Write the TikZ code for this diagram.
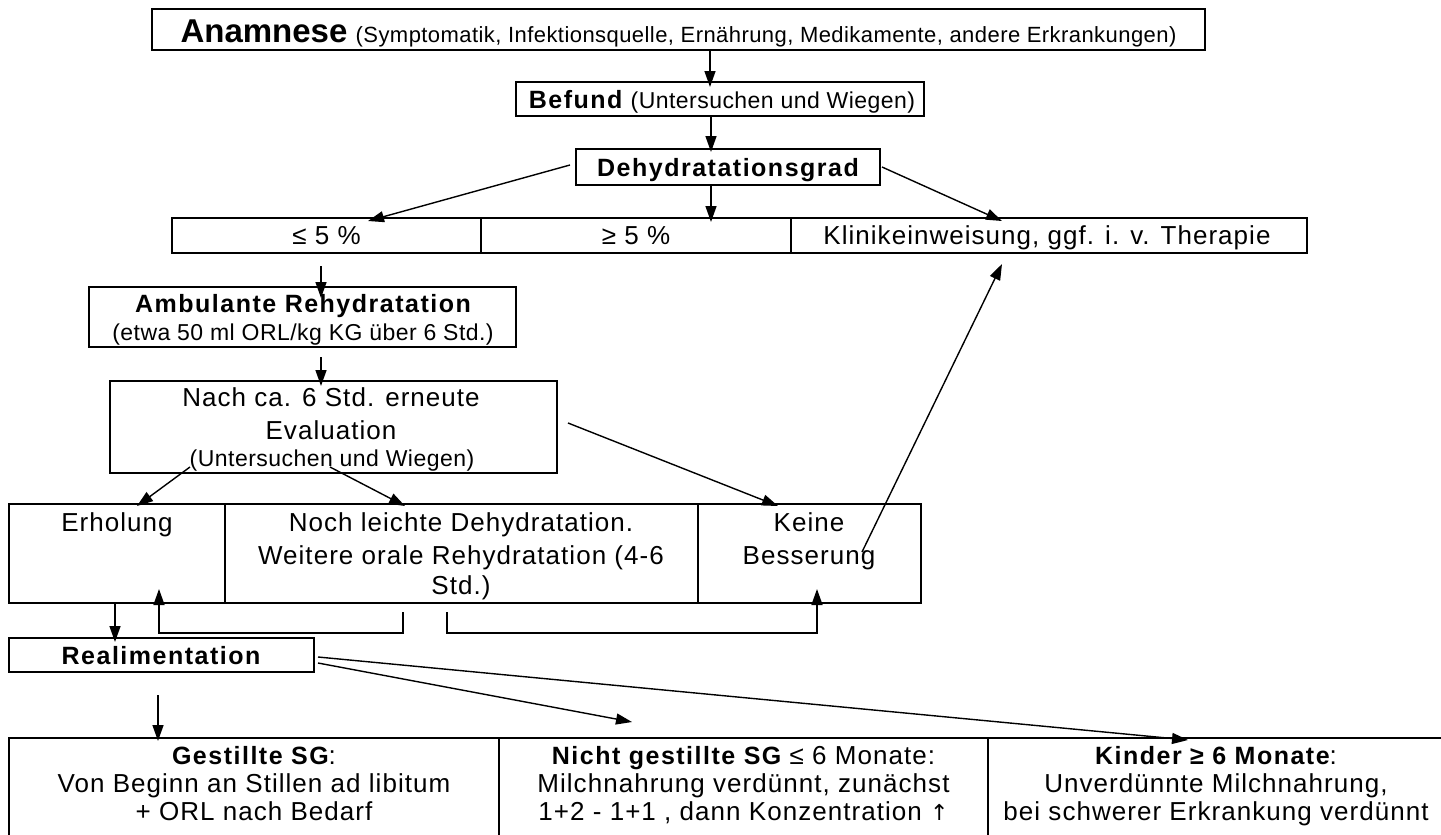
\documentclass[tikz,border=0pt]{standalone}
\usepackage{fontspec}
\setmainfont{Liberation Sans}
\newfontfamily\fnMainFam[LetterSpace=4]{Liberation Sans}
\newfontfamily\fnBoldFam[LetterSpace=6]{Liberation Sans}
\newfontfamily\fnSmallFam[LetterSpace=2]{Liberation Sans}
\newfontfamily\fnBigFam[LetterSpace=0]{Liberation Sans}
\newfontfamily\fnSymFam{DejaVu Sans}
\newcommand\fnMain{\fnMainFam\fontsize{26}{30}\selectfont}
\newcommand\fnBold{\fnBoldFam\bfseries\fontsize{25}{30}\selectfont}
\newcommand\fnSmall{\fnSmallFam\fontsize{23}{26}\selectfont}
\newcommand\fnTiny{\fnSmallFam\fontsize{22}{26}\selectfont}
\newcommand\fnBig{\fnBigFam\bfseries\fontsize{33}{36}\selectfont}
\usetikzlibrary{arrows.meta}
\begin{document}
\begin{tikzpicture}[x=1pt,y=-1pt,
  box/.style={draw, line width=1.8pt, inner sep=0pt},
  txt/.style={inner sep=0pt, text height=18pt, text depth=0pt, font=\fnMain},
  arr/.style={line width=1.4pt, -{Triangle[length=16pt,width=11pt]}}]
\useasboundingbox (0,0) rectangle (1441,835);
\fill[white] (0,0) rectangle (1441,835);

% ---------- boxes ----------
\node[box, minimum width=1053pt, minimum height=41pt] (anam) at (678.5,29.5) {};
\node[box, minimum width=408pt, minimum height=34pt] (befund) at (720,99) {};
\node[box, minimum width=304pt, minimum height=36pt] (dehyd) at (728,167) {};
\node[box, minimum width=309pt, minimum height=35pt] (ra) at (326.5,235.5) {};
\node[box, minimum width=310pt, minimum height=35pt] (rb) at (636,235.5) {};
\node[box, minimum width=516pt, minimum height=35pt] (rc) at (1049,235.5) {};
\node[box, minimum width=427pt, minimum height=60pt] (amb) at (302.5,317) {};
\node[box, minimum width=447pt, minimum height=92pt] (nach) at (333.5,427) {};
\node[box, minimum width=216pt, minimum height=99pt] (ea) at (117,553.5) {};
\node[box, minimum width=473pt, minimum height=99pt] (eb) at (461.5,553.5) {};
\node[box, minimum width=223pt, minimum height=99pt] (ec) at (809.5,553.5) {};
\node[box, minimum width=305pt, minimum height=34pt] (real) at (161.5,655) {};
\node[box, minimum width=490pt, minimum height=112pt] (ba) at (254,794) {};
\node[box, minimum width=489pt, minimum height=112pt] (bb) at (743.5,794) {};
\node[box, minimum width=460pt, minimum height=112pt] (bc) at (1218,794) {};

% ---------- texts ----------
\node[txt, text height=24pt] (tanam) at (678.5,30) {{\fnBig Anamnese} {\fnTiny(Symptomatik, Infektionsquelle, Ernährung, Medikamente, andere Erkrankungen)}};
\node[txt] (tbef) at (722,99) {{\fnBold Befund} {\fnSmall(Untersuchen und Wiegen)}};
\node[txt, font=\fnBold] (tdeh) at (728,167) {Dehydratationsgrad};
\node[txt] (tra) at (326.5,235.5) {≤ 5 \%};
\node[txt] (trb) at (636,235.5) {≥ 5 \%};
\node[txt] (trc) at (1047,235.5) {Klinikeinweisung, ggf. i. v. Therapie};
\node[txt, font=\fnBold] (tamb1) at (303,303) {Ambulante Rehydratation};
\node[txt, font=\fnSmall, text height=16pt] (tamb2) at (303,332) {(etwa 50 ml ORL/kg KG über 6 Std.)};
\node[txt] (tn1) at (331,397) {Nach ca. 6 Std. erneute};
\node[txt] (tn2) at (331,430) {Evaluation};
\node[txt, font=\fnSmall, text height=16pt] (tn3) at (332,458) {(Untersuchen und Wiegen)};
\node[txt] (tea) at (117,522) {Erholung};
\node[txt] (teb1) at (461,522) {Noch leichte Dehydratation.};
\node[txt] (teb2) at (461,555) {Weitere orale Rehydratation (4-6};
\node[txt] (teb3) at (461,585) {Std.)};
\node[txt] (tec1) at (809,522) {Keine};
\node[txt] (tec2) at (809,555) {Besserung};
\node[txt, font=\fnBold] (treal) at (161,655) {Realimentation};
\node[txt] (tba1) at (254,755) {{\fnBold Gestillte SG}:};
\node[txt] (tba2) at (254,783) {Von Beginn an Stillen ad libitum};
\node[txt] (tba3) at (254,811) {+ ORL nach Bedarf};
\node[txt] (tbb1) at (743.5,755) {{\fnBold Nicht gestillte SG} ≤ 6 Monate:};
\node[txt] (tbb2) at (743.5,783) {Milchnahrung verdünnt, zunächst};
\node[txt] (tbb3) at (743.5,811) {1+2 - 1+1 , dann Konzentration {\fnSymFam\fontsize{22}{26}\selectfont ↑}};
\node[txt] (tbc1) at (1216,755) {{\fnBold Kinder ≥ 6 Monate}:};
\node[txt] (tbc2) at (1216,783) {Unverdünnte Milchnahrung,};
\node[txt] (tbc3) at (1216,811) {bei schwerer Erkrankung verdünnt};

% ---------- connector end points ----------
\coordinate (p1s) at (710,50);   \coordinate (p1e) at (710,87);
\coordinate (p2s) at (711,116);  \coordinate (p2e) at (711,152);
\coordinate (p3s) at (570,165);  \coordinate (p3e) at (368,221);
\coordinate (p4s) at (711,185);  \coordinate (p4e) at (711,222);
\coordinate (p5s) at (882,167);  \coordinate (p5e) at (1002,221);
\coordinate (p6s) at (321,266);  \coordinate (p6e) at (321,298);
\coordinate (p7s) at (321,357);  \coordinate (p7e) at (321,386);
\coordinate (p8s) at (190,467);  \coordinate (p8e) at (137,506);
\coordinate (p9s) at (330,467);  \coordinate (p9e) at (405,506);
\coordinate (p10s) at (568,423); \coordinate (p10e) at (778,506);
\coordinate (p11s) at (862,552); \coordinate (p11e) at (1002,264);
\coordinate (p12s) at (115,603); \coordinate (p12e) at (115,642);
\coordinate (p13s) at (403,612); \coordinate (p13e) at (159,589);
\coordinate (p14s) at (447,612); \coordinate (p14e) at (817,589);
\coordinate (p15s) at (318,657); \coordinate (p15e) at (1188,740);
\coordinate (p16s) at (318,663); \coordinate (p16e) at (632,722);
\coordinate (p17s) at (158,695); \coordinate (p17e) at (158,741);

% ---------- connectors ----------
\draw[arr] (p1s) -- (p1e);
\draw[arr] (p2s) -- (p2e);
\draw[arr] (p3s) -- (p3e);
\draw[arr] (p4s) -- (p4e);
\draw[arr] (p5s) -- (p5e);
\draw[arr] (p6s) -- (p6e);
\draw[arr] (p7s) -- (p7e);
\draw[arr] (p8s) -- (p8e);
\draw[arr] (p9s) -- (p9e);
\draw[arr] (p10s) -- (p10e);
\draw[arr] (p11s) -- (p11e);
\draw[arr] (p12s) -- (p12e);
\draw[arr] (p13s) -- ++(0,21) -| (p13e);
\draw[arr] (p14s) -- ++(0,21) -| (p14e);
\draw[arr] (p15s) -- (p15e);
\draw[arr] (p16s) -- (p16e);
\draw[arr] (p17s) -- (p17e);
\end{tikzpicture}
\end{document}
